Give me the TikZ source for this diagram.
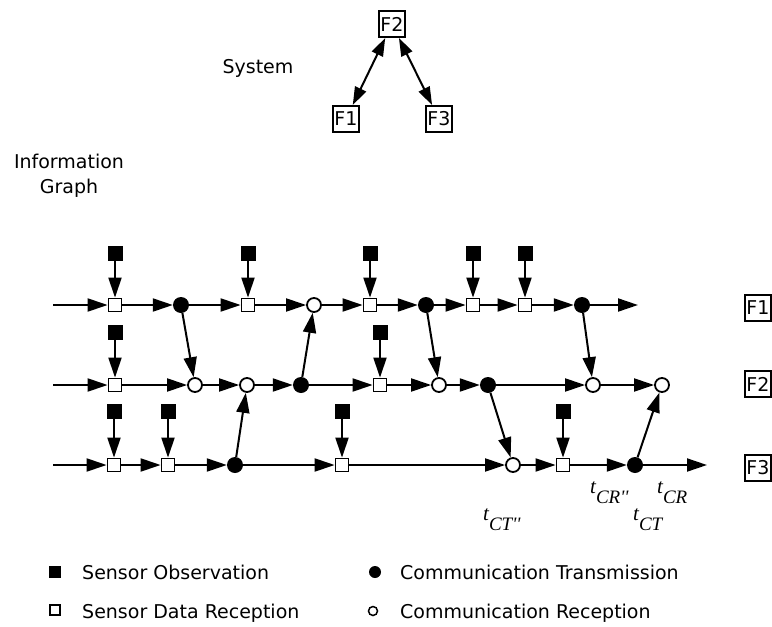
\documentclass[tikz,border=0pt]{standalone}
\usepackage{fontspec}
\setmainfont{DejaVu Sans}
\newfontfamily\tfont{Liberation Serif}
\usetikzlibrary{arrows.meta}
\newcommand\tlabel[2]{{\tfont\itshape\fontsize{21}{21}\selectfont #1\raisebox{-10pt}{\fontsize{19}{19}\selectfont #2}}}
\begin{document}
\begin{tikzpicture}[x=1pt,y=-1pt,
  every node/.style={font=\fontsize{19}{22}\selectfont},
  sq/.style={draw, line width=1.8pt, fill=white, minimum size=13pt, inner sep=0pt},
  obs/.style={fill=black, minimum size=15pt, inner sep=0pt},
  ct/.style={circle, fill=black, minimum size=16pt, inner sep=0pt},
  cr/.style={circle, draw, line width=1.8pt, fill=white, minimum size=14pt, inner sep=0pt},
  arr/.style={line width=2pt, -{Triangle[length=20pt,width=13pt]}},
  darr/.style={line width=2pt, {Triangle[length=18pt,width=12pt]}-{Triangle[length=18pt,width=12pt]}},
  fbox/.style={draw, line width=2pt, inner xsep=1.5pt, inner ysep=0pt, minimum height=26pt},
  txt/.style={anchor=base west, inner sep=0pt},
]
\useasboundingbox (0,0) rectangle (772,627);

% system
\node[fbox] (T2) at (392,24) {F2};
\node[fbox] (T1) at (346,119) {F1};
\node[fbox] (T3) at (439,119) {F3};
\draw[darr] (T2) -- (T1);
\draw[darr] (T2) -- (T3);
\node (sys) at (258,68) {System};
\node[align=center, font=\fontsize{19}{25}\selectfont] (ig) at (69,176) {Information\\Graph};

% row labels
\node[fbox] (L1) at (758,308) {F1};
\node[fbox] (L2) at (758,384) {F2};
\node[fbox] (L3) at (758,468) {F3};

% F1 row
\coordinate (b1) at (53,305);
\coordinate (e1) at (638,305);
\node[sq] (s11) at (115,305) {};
\node[ct] (c11) at (181,305) {};
\node[sq] (s12) at (248,305) {};
\node[cr] (r11) at (314,305) {};
\node[sq] (s13) at (370,305) {};
\node[ct] (c12) at (426,305) {};
\node[sq] (s14) at (473,305) {};
\node[sq] (s15) at (525,305) {};
\node[ct] (c13) at (582,305) {};

% F2 row
\coordinate (b2) at (53,385);
\node[sq] (s21) at (115,385) {};
\node[cr] (r21) at (195,385) {};
\node[cr] (r22) at (247,385) {};
\node[ct] (c21) at (301,385) {};
\node[sq] (s22) at (380,385) {};
\node[cr] (r23) at (439,385) {};
\node[ct] (c22) at (488,385) {};
\node[cr] (r24) at (593,385) {};
\node[cr] (r25) at (662,385) {};

% F3 row
\coordinate (b3) at (53,465);
\coordinate (e3) at (707,465);
\node[sq] (s31) at (114,465) {};
\node[sq] (s32) at (168,465) {};
\node[ct] (c31) at (235,465) {};
\node[sq] (s33) at (342,465) {};
\node[cr] (r31) at (513,465) {};
\node[sq] (s34) at (563,465) {};
\node[ct] (c32) at (635,465) {};

% observations
\foreach \n/\x/\y in {o11/115/253, o12/248/253, o13/370/253, o14/473/253, o15/525/253,
                      o21/115/332, o22/380/332,
                      o31/114/411, o32/168/411, o33/342/411, o34/563/411}
  \node[obs] (\n) at (\x,\y) {};

% chains
\foreach \a/\b in {b1/s11, s11/c11, c11/s12, s12/r11, r11/s13, s13/c12, c12/s14, s14/s15, s15/c13, c13/e1,
                   b2/s21, s21/r21, r21/r22, r22/c21, c21/s22, s22/r23, r23/c22, c22/r24, r24/r25,
                   b3/s31, s31/s32, s32/c31, c31/s33, s33/r31, r31/s34, s34/c32, c32/e3,
                   o11/s11, o12/s12, o13/s13, o14/s14, o15/s15, o21/s21, o22/s22,
                   o31/s31, o32/s32, o33/s33, o34/s34,
                   c11/r21, c21/r11, c31/r22, c12/r23, c22/r31, c13/r24, c32/r25}
  \draw[arr] (\a) -- (\b);

% time labels
\node[txt] (tcrr) at (590,493) {\tlabel{t}{CR''}};
\node[txt] (tcr) at (657,493) {\tlabel{t}{CR}};
\node[txt] (tctt) at (483,520) {\tlabel{t}{CT''}};
\node[txt] (tct) at (633,520) {\tlabel{t}{CT}};

% legend
\node[fill=black, minimum size=12pt, inner sep=0pt] (lg1) at (55,572) {};
\node[txt] (lt1) at (82,579) {Sensor Observation};
\node[draw, line width=1.5pt, minimum size=10pt, inner sep=0pt] (lg2) at (55,610) {};
\node[txt] (lt2) at (82,618) {Sensor Data Reception};
\node[circle, fill=black, minimum size=12pt, inner sep=0pt] (lg3) at (375,572) {};
\node[txt] (lt3) at (400,579) {Communication Transmission};
\node[circle, draw, line width=1.5pt, minimum size=9pt, inner sep=0pt] (lg4) at (373,611) {};
\node[txt] (lt4) at (400,618) {Communication Reception};
\end{tikzpicture}
\end{document}
